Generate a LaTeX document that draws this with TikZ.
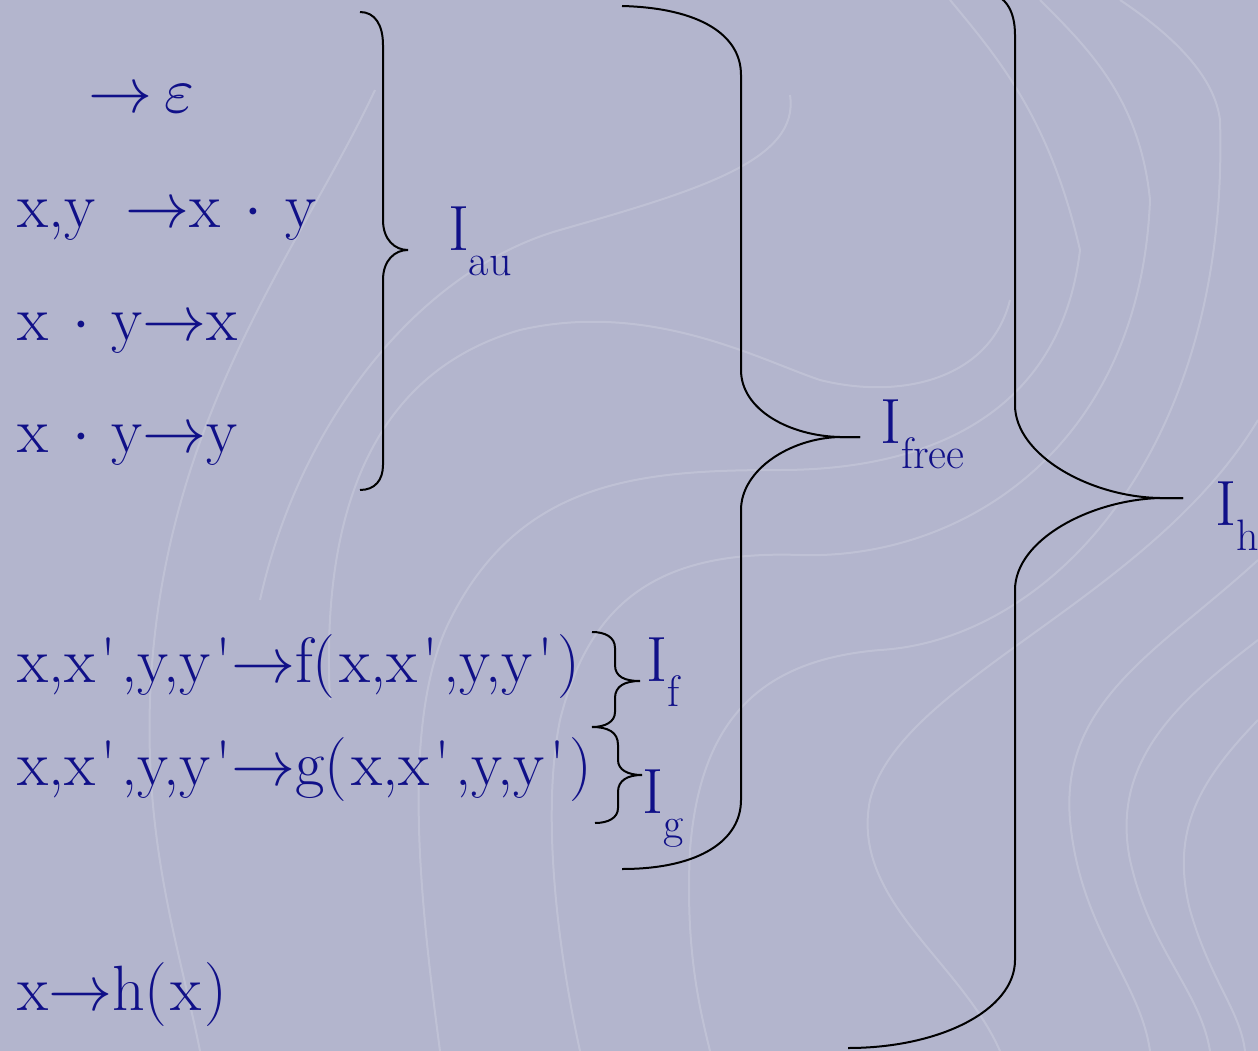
\documentclass[tikz,border=0pt]{standalone}
\usepackage{graphicx}
\usepackage{xcolor}
\definecolor{bgc}{RGB}{179,181,205}
\definecolor{txt}{RGB}{16,16,136}
\newcommand{\aps}{\hspace{5pt}\textquotesingle}
\newcommand{\arr}{\scalebox{6.4}{\normalsize$\rightarrow$}}
\newcommand{\dotop}{\scalebox{6.4}{\normalsize$\cdot$}}
\newcommand{\veps}{\scalebox{6.4}{\normalsize$\varepsilon$}}
\newcommand{\lowsub}[1]{\raisebox{-25pt}{\fontsize{44}{48}\selectfont #1}}
\begin{document}
\begin{tikzpicture}[x=1pt,y=-1pt,
  every node/.style={inner sep=0pt,outer sep=0pt,text=txt},
  lbl/.style={anchor=base west,font=\fontsize{64}{70}\selectfont},
  bracestyle/.style={draw=black,line width=2pt},
  swirl/.style={draw=white,opacity=0.17,line width=2pt}]
\fill[bgc] (0,0) rectangle (1258,1051);
\useasboundingbox (0,0) rectangle (1258,1051);
\clip (0,0) rectangle (1258,1051);
% decorative background swirls
\draw[swirl] (375,90) .. controls (300,250) and (160,420) .. (150,700) .. controls (145,850) and (180,950) .. (200,1051);
\draw[swirl] (790,95) .. controls (800,160) and (700,190) .. (560,230) .. controls (420,270) and (300,420) .. (260,600);
\draw[swirl] (1010,300) .. controls (990,380) and (900,400) .. (820,380) .. controls (760,360) and (650,300) .. (520,330) .. controls (380,370) and (320,500) .. (330,700);
\draw[swirl] (1080,250) .. controls (1060,420) and (920,470) .. (780,470) .. controls (640,470) and (520,480) .. (450,620) .. controls (400,720) and (420,900) .. (440,1051);
\draw[swirl] (1150,200) .. controls (1140,450) and (960,560) .. (800,555) .. controls (660,550) and (590,600) .. (560,720) .. controls (540,820) and (560,960) .. (580,1051);
\draw[swirl] (1220,120) .. controls (1230,450) and (1050,640) .. (880,650) .. controls (760,660) and (700,720) .. (690,850) .. controls (685,950) and (700,1010) .. (710,1051);
\draw[swirl] (1258,420) .. controls (1150,600) and (900,680) .. (870,800) .. controls (850,900) and (960,960) .. (1000,1051);
\draw[swirl] (1258,560) .. controls (1160,650) and (1060,700) .. (1070,820) .. controls (1080,930) and (1140,980) .. (1150,1051);
\draw[swirl] (1258,640) .. controls (1180,700) and (1110,760) .. (1130,860) .. controls (1150,950) and (1200,990) .. (1210,1051);
\draw[swirl] (1258,720) .. controls (1200,780) and (1170,830) .. (1190,910) .. controls (1210,980) and (1240,1010) .. (1245,1051);
\draw[swirl] (950,0) .. controls (1000,60) and (1050,120) .. (1080,250);
\draw[swirl] (1040,0) .. controls (1090,50) and (1140,100) .. (1150,200);
\draw[swirl] (1120,0) .. controls (1180,40) and (1215,80) .. (1220,120);

% rules
\node[lbl] (r1) at (88,113) {\arr\hspace{12pt}\veps};
\node[lbl] (r2) at (17,228) {x,y\hspace{30pt}\arr x\hspace{24pt}\dotop\hspace{24pt}y};
\node[lbl] (r3) at (17,340) {x\hspace{24pt}\dotop\hspace{22pt}y\arr x};
\node[lbl] (r4) at (17,452) {x\hspace{24pt}\dotop\hspace{22pt}y\arr y};
\node[lbl] (r5) at (17,682) {x,x\aps\hspace{5pt},y,y\aps\arr f(\hspace{4pt}x,x\aps\hspace{5pt},y,y\aps\hspace{4pt})};
\node[lbl] (r6) at (17,785) {x,x\aps\hspace{5pt},y,y\aps\arr g(\hspace{4pt}x,x\aps\hspace{5pt},y,y\aps\hspace{4pt})};
\node[lbl] (r7) at (17,1010) {x\arr h(\hspace{3pt}x\hspace{3pt})};

% labels
\node[lbl] (Iau) at (448,250) {I\lowsub{au}};
\node[lbl] (Ifree) at (880,443) {I\lowsub{free}};
\node[lbl] (Ih) at (1215,525) {I\lowsub{h}};
\node[lbl] (If) at (646,681) {I\lowsub{f}};
\node[lbl] (Ig) at (642,813) {I\lowsub{g}};

% brace tips
\coordinate (tau) at (408,250);
\coordinate (tfree) at (860,437);
\coordinate (th) at (1183,498);
\coordinate (tf) at (640,681);
\coordinate (tg) at (642,775);

% braces
\draw[bracestyle] (360,12) .. controls (375,12) and (383,25) .. (383,45) -- (383,220)
  .. controls (383,240) and (395,250) .. (tau)
  .. controls (395,250) and (383,260) .. (383,280) -- (383,465)
  .. controls (383,480) and (375,490) .. (360,490);
\draw[bracestyle] (622,6) .. controls (700,8) and (741,35) .. (741,75) -- (741,370)
  .. controls (741,410) and (790,436) .. (840,437) -- (tfree);
\draw[bracestyle] (tfree) -- (840,437)
  .. controls (790,438) and (741,470) .. (741,510) -- (741,800)
  .. controls (741,840) and (700,869) .. (622,869);
\draw[bracestyle] (980,-8) .. controls (1005,-8) and (1015,10) .. (1015,35) -- (1015,405)
  .. controls (1015,455) and (1090,497) .. (1160,498) -- (th);
\draw[bracestyle] (th) -- (1160,498)
  .. controls (1090,500) and (1015,540) .. (1015,590) -- (1015,960)
  .. controls (1015,1010) and (940,1048) .. (848,1048);
\draw[bracestyle] (592,632) .. controls (605,632) and (615,637) .. (615,648) -- (615,665)
  .. controls (615,677) and (625,681) .. (tf)
  .. controls (625,681) and (615,686) .. (615,698) -- (615,712)
  .. controls (615,722) and (605,727) .. (592,727);
\draw[bracestyle] (592,727) .. controls (608,727) and (618,732) .. (618,745) -- (618,760)
  .. controls (618,770) and (628,775) .. (tg)
  .. controls (628,775) and (618,780) .. (618,792) -- (618,808)
  .. controls (618,818) and (608,823) .. (595,823);
\end{tikzpicture}
\end{document}
